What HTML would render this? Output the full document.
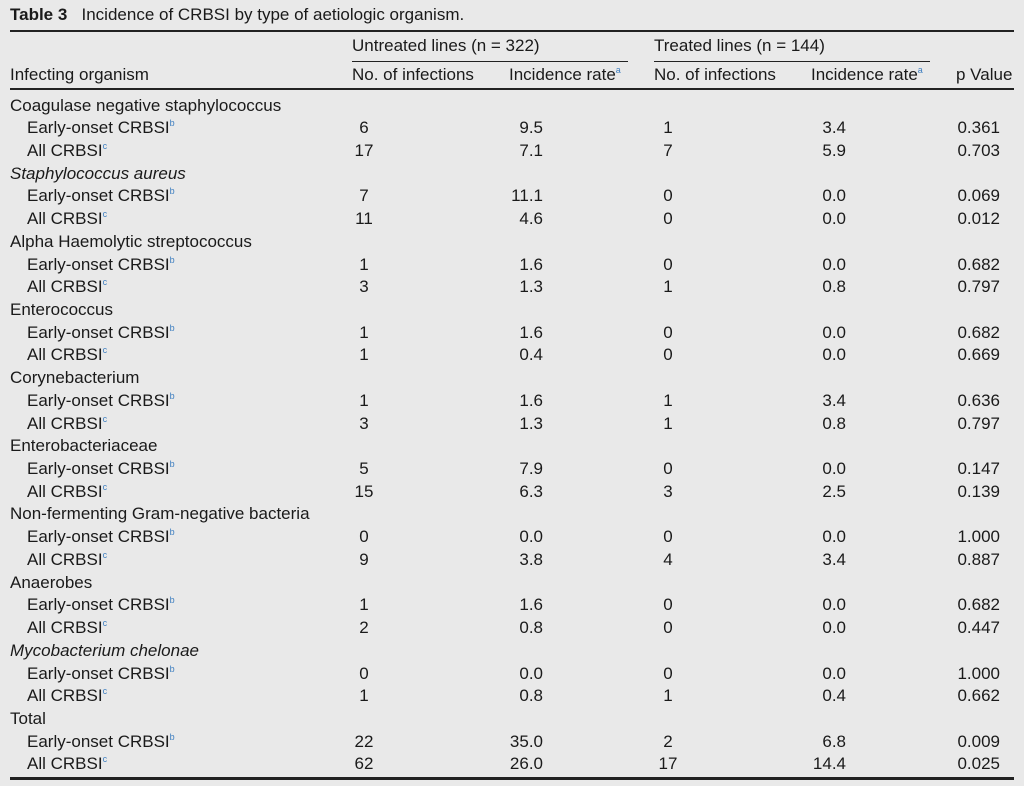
<!DOCTYPE html>
<html><head><meta charset="utf-8"><style>
body{margin:0;width:1024px;height:786px;background:#e9e9e9;overflow:hidden;font-family:"Liberation Sans",sans-serif;color:#1a1a1a;}
#t{position:relative;width:1024px;height:786px;font-size:17px;}
.a{position:absolute;white-space:nowrap;line-height:20px;}
.r{transform:translateX(-100%);}
.c{transform:translateX(-50%);}
.ln{position:absolute;background:#222;}
sup{font-size:9px;color:#3f7fc0;vertical-align:7px;line-height:0;}
</style></head><body>
<div id="t">
<div class="a" style="left:10px;top:5px"><b>Table 3</b>&nbsp;&nbsp; Incidence of CRBSI by type of aetiologic organism.</div>
<div class="ln" style="left:10px;top:30px;width:1004px;height:2px"></div>
<div class="a" style="left:352px;top:36px">Untreated lines (n = 322)</div>
<div class="a" style="left:654px;top:36px">Treated lines (n = 144)</div>
<div class="ln" style="left:352px;top:61px;width:276px;height:1px"></div>
<div class="ln" style="left:654px;top:61px;width:276px;height:1px"></div>
<div class="a" style="left:10px;top:65px">Infecting organism</div>
<div class="a" style="left:352px;top:65px">No. of infections</div>
<div class="a" style="left:509px;top:65px">Incidence rate<sup>a</sup></div>
<div class="a" style="left:654px;top:65px">No. of infections</div>
<div class="a" style="left:811px;top:65px">Incidence rate<sup>a</sup></div>
<div class="a" style="left:956px;top:65px">p Value</div>
<div class="ln" style="left:10px;top:88px;width:1004px;height:2px"></div>
<div class="ln" style="left:10px;top:777px;width:1004px;height:3px"></div>
</div>
<script>
const organisms=["Coagulase negative staphylococcus","Staphylococcus aureus","Alpha Haemolytic streptococcus","Enterococcus","Corynebacterium","Enterobacteriaceae","Non-fermenting Gram-negative bacteria","Anaerobes","Mycobacterium chelonae","Total"];
const italic=[false,true,false,false,false,false,false,false,true,false];
const untreatedCount=[[6,17],[7,11],[1,3],[1,1],[1,3],[5,15],[0,9],[1,2],[0,1],[22,62]];
const untreatedRate=[["9.5","7.1"],["11.1","4.6"],["1.6","1.3"],["1.6","0.4"],["1.6","1.3"],["7.9","6.3"],["0.0","3.8"],["1.6","0.8"],["0.0","0.8"],["35.0","26.0"]];
const treatedCount=[[1,7],[0,0],[0,1],[0,0],[1,1],[0,3],[0,4],[0,0],[0,1],[2,17]];
const treatedRate=[["3.4","5.9"],["0.0","0.0"],["0.0","0.8"],["0.0","0.0"],["3.4","0.8"],["0.0","2.5"],["0.0","3.4"],["0.0","0.0"],["0.0","0.4"],["6.8","14.4"]];
const pValues=[["0.361","0.703"],["0.069","0.012"],["0.682","0.797"],["0.682","0.669"],["0.636","0.797"],["0.147","0.139"],["1.000","0.887"],["0.682","0.447"],["1.000","0.662"],["0.009","0.025"]];
const subLabels=["Early-onset CRBSI<sup>b</sup>","All CRBSI<sup>c</sup>"];
const T=document.getElementById('t');
const rowH=22.72, y0=95.5;
function add(html,x,y,cls,name,it){
  const d=document.createElement('div');
  d.className='a '+(cls||'');
  d.style.left=x+'px';d.style.top=y+'px';
  if(it)d.style.fontStyle='italic';
  d.innerHTML=html;
  
  
  T.appendChild(d);
}
let row=0;
organisms.forEach((o,i)=>{
  add(o,10,y0+row*rowH,'','organism-label',italic[i]);row++;
  for(let k=0;k<2;k++){
    const y=y0+row*rowH;
    add(subLabels[k],27,y,'','subgroup-label');
    add(String(untreatedCount[i][k]),364,y,'c','untreated-count');
    add(untreatedRate[i][k],543,y,'r','untreated-rate');
    add(String(treatedCount[i][k]),668,y,'c','treated-count');
    add(treatedRate[i][k],846,y,'r','treated-rate');
    add(pValues[i][k],1000,y,'r','p-value');
    row++;
  }
});
</script>
</body></html>
